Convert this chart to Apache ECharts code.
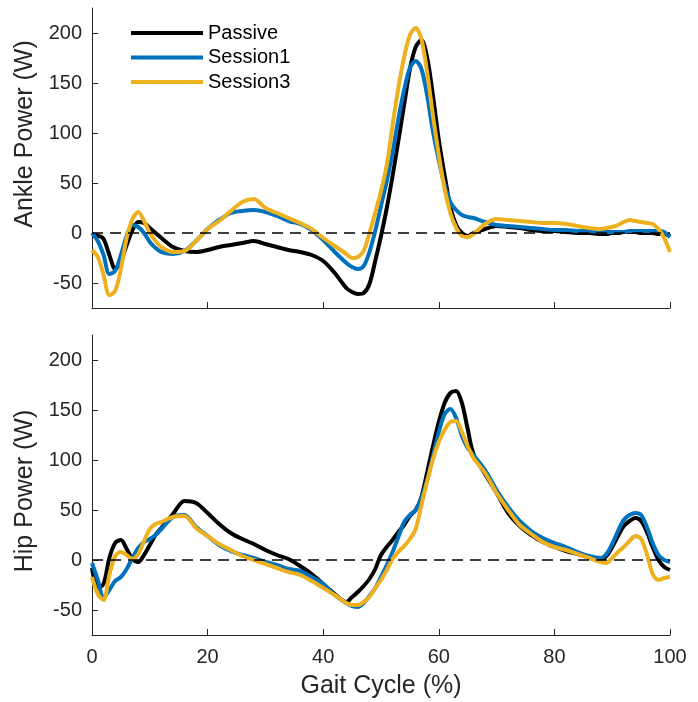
<!DOCTYPE html>
<html>
<head>
<meta charset="utf-8">
<script src="https://cdn.jsdelivr.net/npm/echarts@6.0.0/dist/echarts.min.js"></script>
<style>
    html, body { margin: 0; padding: 0; background: #fff; }
    #main { width: 698px; height: 702px; }
</style>
</head>
<body>
<div id="main"></div>
<script>
// gait cycle (%) sample positions
var xs = [0, 1, 2, 3, 4, 5, 6, 7, 8, 9, 10, 11, 12,
    14, 16, 18, 20, 22, 24, 26, 28, 30, 32, 34, 36, 38, 40, 42,
    44, 45, 46, 47, 48, 49, 50, 51, 52, 53, 54, 55, 56, 57, 58, 59, 60, 61, 62, 63, 64, 65, 66,
    68, 70, 72, 74, 76, 78, 80, 82, 84, 86, 88,
    89, 90, 91, 92, 93, 94, 95, 96, 97, 98, 99, 100];

// ankle power (W)
var anklePassive = [-3, -3, -6, -22, -36, -28, -12, 3, 11, 10, 5, 0, -5,
    -14, -18, -19, -17, -14, -12, -10, -8, -11, -14, -17, -19, -22, -28, -40,
    -55, -59, -61, -60, -51, -28, -3, 25, 57, 92, 128, 164, 186, 193, 175, 137, 93, 58, 26, 8, 0, -3, 0,
    4, 7, 6, 5, 3, 2, 2, 1, 0, 0, -1,
    -1, 0, 0, 1, 1, 1, 0, 0, 0, -1, -1, -3];
var ankleSession1 = [0, -8, -22, -41, -38, -22, -3, 8, 6, 0, -9, -15, -19,
    -21, -18, -8, 4, 13, 20, 22, 23, 21, 17, 12, 9, 3, -7, -19,
    -30, -34, -36, -33, -19, 2, 27, 52, 80, 114, 143, 165, 172, 164, 137, 101, 73, 48, 31, 23, 18, 16, 15,
    11, 8, 7, 6, 5, 4, 3, 3, 2, 2, 1,
    1, 1, 1, 1, 2, 2, 2, 2, 2, 2, 1, -4];
var ankleSession3 = [-17, -24, -42, -62, -58, -36, -5, 14, 21, 12, 0, -8, -14,
    -19, -18, -8, 4, 12, 22, 31, 34, 25, 20, 15, 10, 4, -5, -13,
    -21, -25, -24, -18, 0, 20, 42, 68, 108, 145, 176, 198, 205, 194, 160, 117, 78, 44, 20, 5, -3, -4, -1,
    9, 14, 13, 12, 11, 10, 10, 9, 7, 5, 4,
    5, 6, 8, 11, 13, 12, 11, 10, 9, 4, -5, -19];

// hip power (W)
var hipPassive = [-8, -28, -24, 2, 17, 20, 11, 1, -2, 5, 15, 25, 32,
    46, 59, 57, 47, 36, 27, 21, 16, 10, 5, 1, -6, -14, -24, -34,
    -42, -37, -32, -26, -19, -9, 5, 13, 20, 28, 35, 44, 50, 63, 88, 114, 138, 157, 167, 169, 157, 131, 106,
    86, 67, 47, 34, 25, 18, 13, 9, 6, 3, 1,
    4, 13, 24, 34, 39, 42, 39, 28, 13, 0, -7, -10];
var hipSession1 = [-3, -20, -38, -30, -21, -17, -9, 2, 12, 18, 21, 25, 31,
    43, 45, 33, 24, 15, 9, 5, 2, -2, -5, -9, -11, -17, -24, -35,
    -43, -46, -47, -43, -36, -28, -17, -5, 8, 23, 38, 45, 50, 62, 80, 104, 128, 146, 151, 142, 124, 112, 105,
    90, 70, 53, 39, 29, 22, 17, 13, 8, 4, 2,
    6, 16, 29, 40, 45, 47, 45, 33, 17, 5, 0, -2];
var hipSession3 = [-17, -34, -40, -15, 4, 8, 5, 1, 6, 19, 31, 36, 38,
    43, 44, 32, 24, 16, 10, 4, 0, -4, -8, -12, -15, -21, -28, -35,
    -43, -45, -45, -42, -37, -28, -20, -10, 1, 8, 14, 21, 31, 55, 79, 101, 118, 130, 138, 139, 128, 114, 102,
    87, 67, 50, 35, 26, 18, 13, 10, 6, 2, -2,
    -3, 2, 8, 13, 19, 24, 21, 6, -14, -20, -18, -17];

var names = ['Passive', 'Session1', 'Session3'];
var colors = ['#000000', '#0072BD', '#EDB120'];
var yTicks = [-50, 0, 50, 100, 150, 200];

var font = "'Liberation Sans', Arial, Helvetica, sans-serif";
var axisColor = '#262626';

function pairs(ys) {
    return xs.map(function (x, i) { return [x, ys[i]]; });
}

function curve(name, ys, idx) {
    return {
        name: name,
        type: 'line',
        xAxisIndex: idx,
        yAxisIndex: idx,
        data: pairs(ys),
        showSymbol: false,
        smooth: 0.3,
        color: colors[names.indexOf(name)],
        lineStyle: { width: 4 }
    };
}

function zeroLine(idx) {
    return {
        type: 'line',
        xAxisIndex: idx,
        yAxisIndex: idx,
        data: [[0, 0], [100, 0]],
        showSymbol: false,
        silent: true,
        z: 5,
        lineStyle: { color: '#000', width: 1.3, type: [11, 7] }
    };
}

function xAxisCfg(idx, showLabel) {
    return {
        type: 'value',
        gridIndex: idx,
        min: 0,
        max: 100,
        interval: 20,
        name: showLabel ? 'Gait Cycle (%)' : '',
        nameLocation: 'middle',
        nameGap: 39,
        nameTextStyle: { fontSize: 25, color: axisColor, fontFamily: font },
        axisLine: { show: true, onZero: false, lineStyle: { color: axisColor, width: 1 } },
        axisTick: { show: true, inside: true, length: 6, lineStyle: { color: axisColor } },
        axisLabel: { show: showLabel, fontSize: 20, color: axisColor, fontFamily: font, margin: 12 },
        splitLine: { show: false }
    };
}

// pad shifts the rotated title along the axis (MATLAB put them off centre)
function yAxisCfg(idx, title, pad) {
    return {
        type: 'value',
        gridIndex: idx,
        min: -75,
        max: 225,
        name: title,
        nameLocation: 'middle',
        nameGap: 52,
        nameTextStyle: { fontSize: 25, color: axisColor, fontFamily: font, padding: pad },
        axisLine: { show: true, onZero: false, lineStyle: { color: axisColor, width: 1 } },
        axisTick: { show: true, inside: true, length: 6, customValues: yTicks, lineStyle: { color: axisColor } },
        axisLabel: { fontSize: 20, color: axisColor, fontFamily: font, margin: 10, customValues: yTicks },
        splitLine: { show: false }
    };
}

var myChart = echarts.init(document.getElementById('main'));
var option = {
    animation: false,
    backgroundColor: '#fff',
    textStyle: { fontFamily: font },
    legend: {
        data: names,
        orient: 'vertical',
        left: 126,
        top: 18,
        icon: 'rect',
        itemWidth: 72,
        itemHeight: 4,
        itemGap: 4.5,
        textStyle: { fontSize: 20, color: '#000', fontFamily: font, lineHeight: 20 }
    },
    grid: [
        { left: 92, top: 8, width: 578, height: 300 },
        { left: 92, top: 335, width: 578, height: 300 }
    ],
    xAxis: [xAxisCfg(0, false), xAxisCfg(1, true)],
    yAxis: [yAxisCfg(0, 'Ankle Power (W)', [0, 0, 0, 48]), yAxisCfg(1, 'Hip Power (W)', [0, 12, 0, 0])],
    series: [
        curve('Passive', anklePassive, 0),
        curve('Session1', ankleSession1, 0),
        curve('Session3', ankleSession3, 0),
        zeroLine(0),
        curve('Passive', hipPassive, 1),
        curve('Session1', hipSession1, 1),
        curve('Session3', hipSession3, 1),
        zeroLine(1)
    ]
};
myChart.setOption(option);
</script>
</body>
</html>
